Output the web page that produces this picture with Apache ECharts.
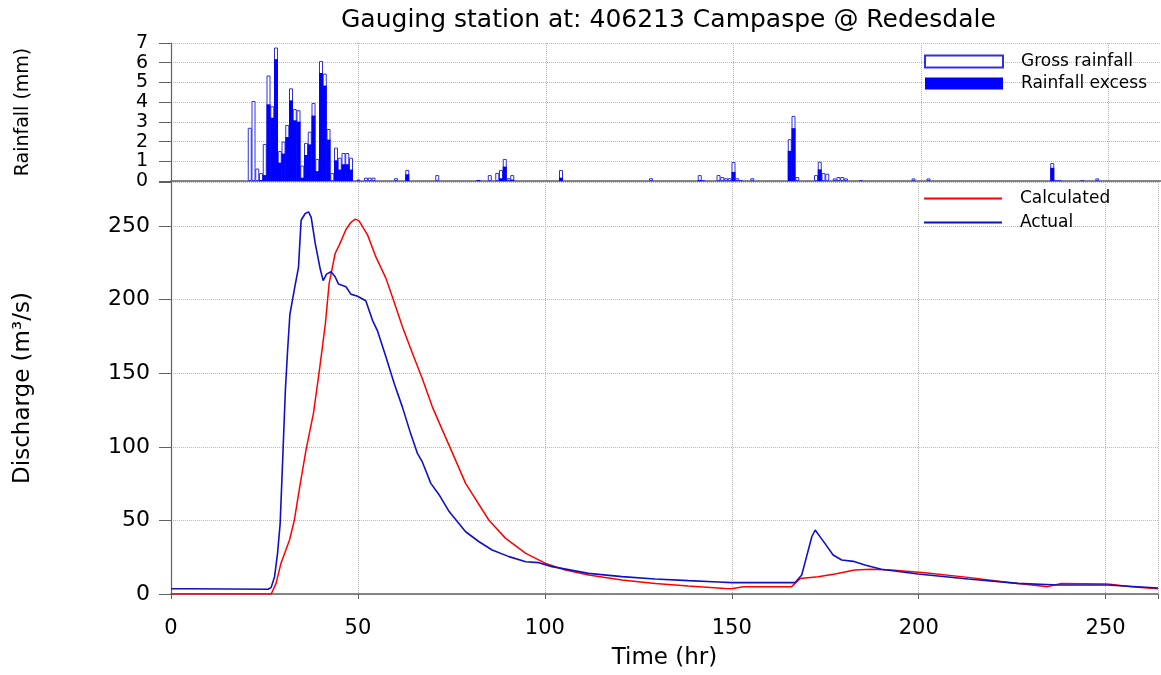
<!DOCTYPE html>
<html>
<head>
<meta charset="utf-8">
<script src="https://cdn.jsdelivr.net/npm/echarts@6/dist/echarts.min.js"></script>
<style>
html,body{margin:0;padding:0;background:#ffffff;}
#chart{width:1161px;height:675px;}
</style>
</head>
<body>
<div id="chart"></div>
<script>
// ---- Data ----
const chartTitle = 'Gauging station at: 406213 Campaspe @ Redesdale';

// Rainfall (mm), one bar per hour
const rainHours  = [21,22,23,24,25,26,27,28,29,30,31,32,33,34,35,36,37,38,39,40,41,42,43,44,45,46,47,48,50,52,53,54,60,63,71,82,85,87,88,89,90,91,104,128,141,142,146,147,148,149,150,151,152,155,165,166,167,172,173,174,175,177,178,179,180,184,198,202,235,236,237,243,247];
const grossRain  = [2.7,4.06,0.63,0.4,1.88,5.35,3.79,6.77,1.52,2.0,2.84,4.7,3.65,3.59,0.78,1.93,2.5,3.96,1.12,6.09,5.45,2.64,0.4,1.69,1.18,1.42,1.42,1.18,0.07,0.17,0.17,0.17,0.14,0.56,0.3,0.05,0.3,0.41,0.56,1.12,0.14,0.3,0.56,0.14,0.3,0.05,0.3,0.2,0.14,0.14,0.96,0.14,0.05,0.14,2.12,3.3,0.2,0.3,0.98,0.4,0.37,0.13,0.2,0.2,0.13,0.05,0.13,0.13,0.91,0.05,0.05,0.05,0.13];
const excessRain = [0,0,0,0.05,0.3,3.89,3.21,6.18,0.93,1.39,2.23,4.09,3.08,3.01,0.17,1.32,1.86,3.32,0.5,5.48,4.84,2.1,0,1.05,0.58,0.85,0.85,0.58,0,0,0,0,0,0.34,0,0.05,0,0,0.14,0.73,0,0.07,0.17,0,0.05,0,0,0,0,0,0.46,0,0,0,1.53,2.68,0,0,0.59,0,0,0,0,0,0,0,0,0,0.67,0,0,0,0];

// Discharge (m3/s)
const actualHours = [0,5,5.5,26,26.8,27.7,28.5,29.2,29.9,30.6,31.2,31.8,33.0,34.1,34.8,35.9,36.8,37.5,38.6,39.9,40.7,41.6,42.8,43.9,44.8,46.8,48.1,49.9,52.1,53.9,55.2,57.5,59.7,61.9,64.1,65.9,67.2,69.5,71.7,74.4,78.8,82.4,85.9,90.4,94.9,98.4,101.9,111.7,120.6,129.5,138.4,146.4,150,166.9,168.7,170.0,171.4,172.3,172.8,174.9,177.1,179.4,182.5,185.6,190,199.8,213.2,226.5,237.2,250.5,264];
const actualFlow  = [3.6,3.6,3.1,3.2,4.5,11.8,27.6,48,93,139,166,190,207,222,254,258.6,259.7,256,238,221,213,217.4,219,215.6,210.6,208.8,203.8,202.4,199.3,186,179,161,143,127,109,95.6,89.9,75.2,67.5,56,42.3,35.5,29.9,25.4,21.9,21.3,18.6,14.0,11.8,10.2,9.1,8.2,7.7,7.7,12.9,25.4,38.9,43.5,43.0,34.4,26.5,23.1,22.2,19.7,16.8,13.6,10.2,7.2,6.1,6.1,4.1];

const calcHours = [0,26.8,28.1,29.4,31.7,33.0,34.3,36.1,38.1,39.7,41.3,42.3,43.9,45.0,46.8,48.1,49.3,50.3,52.6,54.8,57.5,59.2,61.9,64.6,67.2,69.9,72.6,74.4,78.8,85.0,89.5,94.9,100.2,105.5,111.7,120.6,129.5,138.4,148.2,149.9,153.1,166,168.3,173.1,177.6,182.9,187.4,192.7,201.6,213.2,224.7,234.5,238.1,250.5,256.8,264];
const calcFlow  = [0,0,7.2,20.8,36.7,50.3,70.7,97.8,122.8,152.2,183.9,211.1,231.4,237.1,247.7,252.5,254.8,253.6,243.9,229.1,214.5,202,181.6,163.5,146.5,127.2,111.4,101,75.2,50.3,37.8,27.6,20.8,16.3,12.9,9.5,7.2,5.4,3.8,3.6,5.0,5.0,10.6,11.8,13.6,16.3,16.8,16.3,14.5,11.3,7.7,5.0,7.2,6.8,5.0,3.6];

// Axis settings
const timeMax = 264, timeStep = 50;
const rainMax = 7, rainStep = 1;
const flowMax = 280, flowStep = 50;

// ---- Chart ----
const FONT = 'DejaVu Sans';
const AXC = '#606060';
const gridLine = {show: true, lineStyle: {color: '#b8b8b8', type: 'dotted', width: 1}};
const zip = (a, b) => a.map((v, i) => [v, b[i]]);

const chart = echarts.init(document.getElementById('chart'), null, {renderer: 'canvas'});
chart.setOption({
  animation: false,
  backgroundColor: '#ffffff',
  textStyle: {fontFamily: FONT, color: '#000'},
  title: {
    text: chartTitle, left: 336, top: 3,
    textStyle: {fontFamily: FONT, fontSize: 25, fontWeight: 'normal', color: '#000'}
  },
  grid: [
    {left: 171, right: 0, top: 43, height: 138},
    {left: 171, right: 0, top: 182, bottom: 81}
  ],
  legend: [
    {
      data: [{name: 'Gross rainfall', icon: 'rect'}, {name: 'Rainfall excess', icon: 'rect'}],
      orient: 'vertical', left: 924, top: 53, padding: 0,
      itemWidth: 78, itemHeight: 12, itemGap: 5,
      textStyle: {fontFamily: FONT, fontSize: 17, color: '#000', padding: [0, 0, 0, 13]}
    },
    {
      data: [{name: 'Calculated', icon: 'rect'}, {name: 'Actual', icon: 'rect'}],
      orient: 'vertical', left: 924, top: 190, padding: 0,
      itemWidth: 78, itemHeight: 2, itemGap: 7,
      textStyle: {fontFamily: FONT, fontSize: 17, color: '#000', padding: [0, 0, 0, 13]}
    }
  ],
  xAxis: [
    {
      gridIndex: 0, type: 'value', min: 0, max: timeMax, interval: timeStep,
      axisLine: {show: true, onZero: false, lineStyle: {color: AXC, width: 1.5}},
      axisTick: {show: false}, axisLabel: {show: false},
      splitLine: gridLine
    },
    {
      gridIndex: 1, type: 'value', min: 0, max: timeMax, interval: timeStep,
      axisLine: {show: true, onZero: false, lineStyle: {color: AXC, width: 1.5}},
      axisTick: {show: true, length: 5, lineStyle: {color: AXC}},
      axisLabel: {fontFamily: FONT, fontSize: 21, color: '#000', margin: 24,
        formatter: v => (v % timeStep === 0 ? String(v) : '')},
      name: 'Time (hr)', nameLocation: 'middle', nameGap: 53,
      nameTextStyle: {fontFamily: FONT, fontSize: 23, color: '#000'},
      splitLine: gridLine
    }
  ],
  yAxis: [
    {
      gridIndex: 0, type: 'value', min: 0, max: rainMax, interval: rainStep,
      axisLine: {show: true, lineStyle: {color: AXC, width: 1.2}},
      axisTick: {show: true, length: 12, lineStyle: {color: AXC}},
      axisLabel: {fontFamily: FONT, fontSize: 19, color: '#000', margin: 23},
      name: 'Rainfall (mm)', nameLocation: 'middle', nameGap: 138,
      nameTextStyle: {fontFamily: FONT, fontSize: 19, color: '#000'},
      splitLine: gridLine
    },
    {
      gridIndex: 1, type: 'value', min: 0, max: flowMax, interval: flowStep,
      axisLine: {show: true, lineStyle: {color: AXC, width: 1.2}},
      axisTick: {show: true, length: 12, lineStyle: {color: AXC}},
      axisLabel: {fontFamily: FONT, fontSize: 22, color: '#000', margin: 21,
        formatter: v => (v % flowStep === 0 ? String(v) : '')},
      name: 'Discharge (m³/s)', nameLocation: 'middle', nameGap: 136,
      nameTextStyle: {fontFamily: FONT, fontSize: 23, color: '#000'},
      splitLine: gridLine
    }
  ],
  series: [
    {
      name: 'Gross rainfall', type: 'bar', xAxisIndex: 0, yAxisIndex: 0,
      data: zip(rainHours, grossRain), barWidth: 4, barGap: '-100%',
      itemStyle: {color: '#ffffff', borderColor: '#3030e0', borderWidth: 1},
      emphasis: {disabled: true}
    },
    {
      name: 'Rainfall excess', type: 'bar', xAxisIndex: 0, yAxisIndex: 0,
      data: zip(rainHours, excessRain), barWidth: 4, barGap: '-100%',
      itemStyle: {color: '#0000ff'},
      emphasis: {disabled: true}
    },
    {
      name: 'Calculated', type: 'line', xAxisIndex: 1, yAxisIndex: 1,
      data: zip(calcHours, calcFlow), symbol: 'none', smooth: false,
      lineStyle: {color: '#ff0000', width: 1.5}, itemStyle: {color: '#ff0000'},
      emphasis: {disabled: true}
    },
    {
      name: 'Actual', type: 'line', xAxisIndex: 1, yAxisIndex: 1,
      data: zip(actualHours, actualFlow), symbol: 'none', smooth: false,
      lineStyle: {color: '#1010c8', width: 1.6}, itemStyle: {color: '#1010c8'},
      emphasis: {disabled: true}
    }
  ]
});
</script>
</body>
</html>
